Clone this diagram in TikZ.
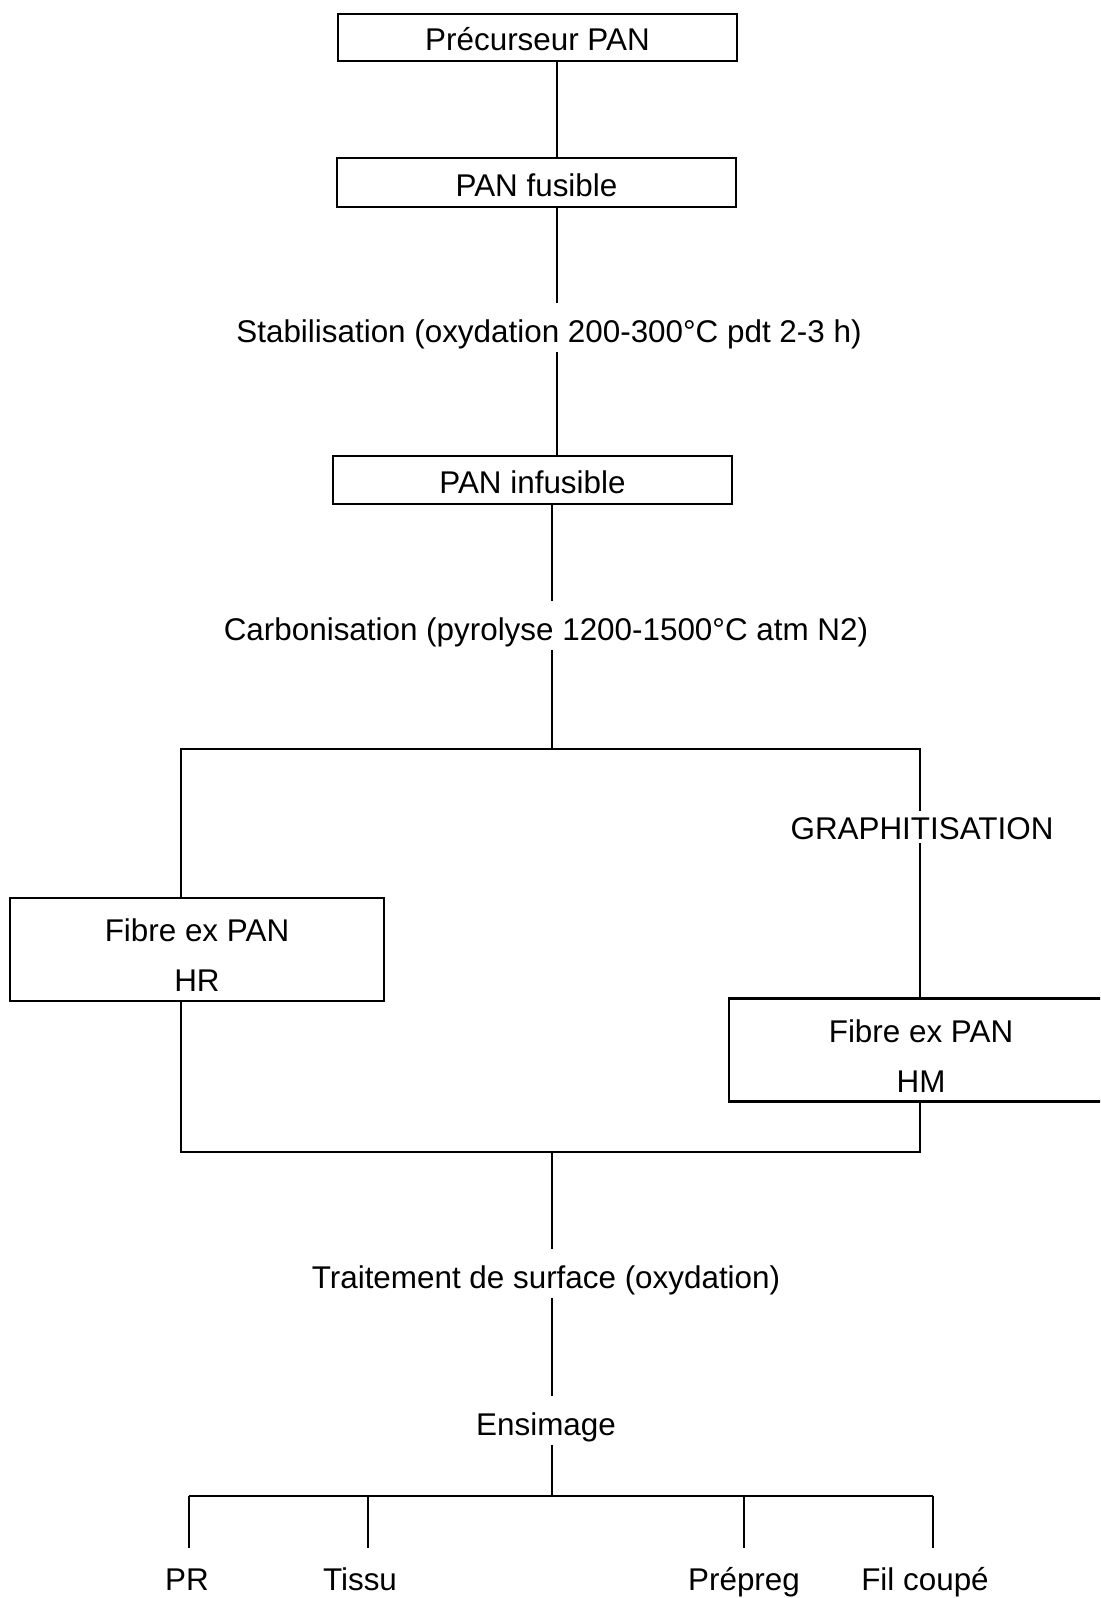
\documentclass[tikz,border=0pt]{standalone}
\usepackage{fontspec}
\setmainfont{Liberation Sans}

\begin{document}
\begin{tikzpicture}[x=0.5pt, y=-0.5pt, line width=1.1pt,
  font=\fontsize{15.7}{25}\selectfont,
  stepbox/.style={draw, inner sep=0pt, text depth=5pt, minimum width=199.5pt},
  fibrebox/.style={draw, align=center, inner sep=0pt, minimum height=51.5pt},
  steplabel/.style={inner sep=1pt},
  prodlabel/.style={inner sep=1pt, anchor=base},
  incut/.style={shorten >=6.5pt}]
  \useasboundingbox (0,0) rectangle (1100,1598);
  \clip (0,0) rectangle (1100,1598);
  \coordinate (spineA) at (557,0);
  \coordinate (spineB) at (552,0);
  \coordinate (lx) at (181,0);
  \coordinate (rx) at (920,0);
  \coordinate (split) at (552,749);
  \coordinate (join) at (552,1152);
  \coordinate (fan) at (552,1496);
  % Precursor chain
  \node[stepbox, text height=18.5pt] (pre) at (537.5,37.5) {Précurseur PAN};
  \node[stepbox, text height=19.5pt] (fus) at (536.5,182.5) {PAN fusible};
  \node[steplabel] (stab) at (549,334) {Stabilisation (oxydation 200-300°C pdt 2-3 h)};
  \node[stepbox, text height=19pt] (inf) at (532.5,480) {PAN infusible};
  \node[steplabel] (carb) at (546,632) {Carbonisation (pyrolyse 1200-1500°C atm N2)};
  % Two fibre grades
  \node[steplabel] (graph) at (922,829) {GRAPHITISATION};
  \node[fibrebox, minimum width=187pt] (hr) at (197,949.5) {\rule{0pt}{17pt}Fibre ex PAN\\HR};
  \node[fibrebox, minimum width=192pt] (hm) at (921,1050) {\rule{0pt}{17pt}Fibre ex PAN\\HM};
  % Finishing
  \node[steplabel] (trait) at (546,1280) {Traitement de surface (oxydation)};
  \node[steplabel] (ensi) at (546,1427) {Ensimage};
  \node[prodlabel] (pr) at (187,1590) {PR};
  \node[prodlabel] (tissu) at (360,1590) {Tissu};
  \node[prodlabel] (prepreg) at (744,1590) {Prépreg};
  \node[prodlabel] (filc) at (925,1590) {Fil coupé};
  % Spine
  \draw (pre.south -| spineA) -- (fus.north -| spineA);
  \draw[incut] (fus.south -| spineA) -- (stab.north -| spineA);
  \draw (stab.south -| spineA) -- (inf.north -| spineA);
  \draw[incut] (inf.south -| spineB) -- (carb.north -| spineB);
  \draw (carb.south -| spineB) -- (split);
  % Branches
  \draw (hr.north -| lx) |- (split) -| ([yshift=2pt]graph.north -| rx);
  \draw (graph.south -| rx) -- (hm.north -| rx);
  \draw (hr.south -| lx) |- (join) -| (hm.south -| rx);
  \draw[incut] (join) -- (trait.north -| spineB);
  \draw[incut] (trait.south -| spineB) -- (ensi.north -| spineB);
  \draw (ensi.south -| spineB) -- (fan);
  % Products
  \draw ([xshift=1pt]pr.north |- fan) -- ([xshift=4pt]filc.north |- fan);
  \foreach \prod/\dx in {pr/1pt, tissu/4pt, prepreg/0pt, filc/4pt}
    \draw ([xshift=\dx]\prod.north |- fan) -- ([xshift=\dx]\prod.north |- 0,1548);
\end{tikzpicture}
\end{document}
